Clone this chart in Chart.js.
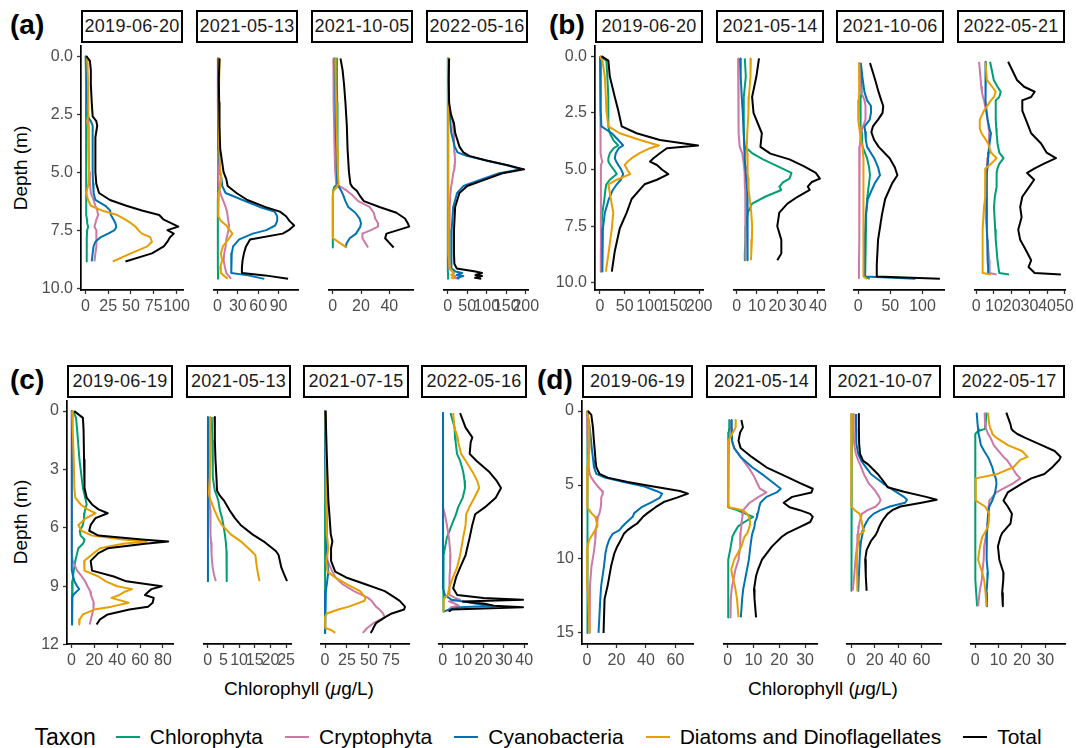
<!DOCTYPE html>
<html>
<head>
<meta charset="utf-8">
<title>Chlorophyll depth profiles</title>
<script src="https://cdn.jsdelivr.net/npm/chart.js@4.4.1/dist/chart.umd.min.js"></script>
<style>
  body { margin: 0; background: #fff; font-family: "Liberation Sans", Arial, sans-serif; }
  #page { position: relative; width: 1076px; height: 748px; overflow: hidden; background: #fff; }
  #page canvas { position: absolute; }
  .strip { position: absolute; box-sizing: border-box; border: 2px solid #000; background: #fff;
           color: #1a1a1a; font-size: 18px; letter-spacing: 0.3px; display: flex; align-items: center;
           justify-content: center; white-space: nowrap; }
  .tag { position: absolute; font-weight: bold; font-size: 28px; line-height: 1; color: #000; }
  .ytitle { position: absolute; width: 200px; height: 22px; line-height: 22px; text-align: center;
            font-size: 19px; transform: rotate(-90deg); white-space: nowrap; }
  .xtitle { position: absolute; font-size: 19px; white-space: nowrap; transform: translateX(-50%); }
  #legend { position: absolute; left: 0; top: 722px; width: 1076px; height: 30px; display: flex;
            align-items: center; justify-content: center; }
  #legend .ttl { font-size: 23px; margin-right: 20px; }
  #legend .sw { display: inline-block; width: 24px; height: 2.5px; margin-right: 10px; }
  #legend .lb { font-size: 21px; margin-right: 22px; }
</style>
</head>
<body>
<div id="page">
  <div class="tag" style="left:10px;top:11px">(a)</div>
  <div class="tag" style="left:549px;top:11px">(b)</div>
  <div class="tag" style="left:10px;top:366px">(c)</div>
  <div class="tag" style="left:537px;top:366px">(d)</div>
  <div class="ytitle" style="left:-79px;top:157px">Depth (m)</div>
  <div class="ytitle" style="left:-79px;top:511px">Depth (m)</div>
  <div class="xtitle" style="left:299px;top:678px">Chlorophyll (<i>μ</i>g/L)</div>
  <div class="xtitle" style="left:823px;top:678px">Chlorophyll (<i>μ</i>g/L)</div>
  <div id="legend"></div>
</div>
<script>
var taxa = ["Chlorophyta", "Cryptophyta", "Cyanobacteria", "Diatoms and Dinoflagellates", "Total"];
var taxonColors = ["#009E73", "#CC79A7", "#0072B2", "#E69F00", "#000000"];

// depth ticks per group
var depthTicksAB = [0, 2.5, 5, 7.5, 10];
var depthLabelsAB = ["0.0", "2.5", "5.0", "7.5", "10.0"];
var depthTicksC = [0, 3, 6, 9, 12];
var depthTicksD = [0, 5, 10, 15];

// ---- (a) ----
var a1Depth = [0, 0.2, 0.6, 1.2, 2.0, 2.6, 2.8, 3.0, 3.5, 4.2, 5.0, 5.5, 5.9, 6.2, 6.45, 6.65, 6.85, 7.05, 7.2, 7.35, 7.5, 7.65, 7.8, 8.0, 8.2, 8.5, 8.85];
var a1Chl = [0.3, 0.5, 0.6, 0.7, 0.8, 0.8, 0.8, 0.8, 0.8, 0.8, 0.8, 0.8, 0.8, 1, 1.2, 1.5, 1.5, 1.8, 2, 3, 2, 1.8, 1.6, 1.5, 1.5, 1.5, 1.5];
var a1Cry = [0.5, 0.5, 0.8, 1, 2, 3, 3.5, 3.5, 3.5, 3.5, 4, 5, 6, 9, 11, 13, 14, 12, 11, 10, 12, 12, 12.5, 12, 12, 11, 10];
var a1Cya = [0.5, 1, 1, 1.5, 2, 2.5, 6, 8, 8, 8, 8, 8.5, 9, 11, 22, 27, 28, 31, 33, 34, 32, 25, 17, 11, 9, 8, 7];
var a1Dia = [1.5, 2, 2.5, 3, 3, 3.5, 2, 3, 3.5, 4, 4, 3.5, 1, 3, 6, 18, 35, 44, 50, 55, 58, 62, 71, 73, 68, 50, 30];
var a1Tot = [1, 5, 6, 6, 7, 8, 12, 13, 11, 11, 11, 12, 15, 27, 45, 62, 81, 86, 94, 102, 90, 97, 93, 90, 86, 73, 44];
var a1Ticks = [0, 25, 50, 75, 100];

var a2Depth = [0.1, 1.0, 2.0, 3.0, 4.0, 5.0, 5.3, 5.6, 5.9, 6.2, 6.5, 6.7, 6.9, 7.1, 7.3, 7.5, 7.65, 7.9, 8.2, 8.5, 8.8, 9.1, 9.35, 9.45, 9.6];
var a2Chl = [0.8, 0.8, 0.8, 0.8, 0.8, 0.9, 1, 1, 1, 0.5, 0.5, 0.5, 0.5, 0.5, 0.5, 0.5, 0.6, 0.6, 0.6, 0.7, 0.7, 0.7, 0.8, 0.8, 0.8];
var a2Cry = [0.5, 0.5, 0.5, 1, 1, 1.5, 2, 2.5, 4, 8, 12, 14, 15, 16, 17, 16, 15, 13, 12, 10, 9, 11, 13, 16, 20];
var a2Cya = [1, 1, 1, 1.5, 2, 4, 6, 7, 12, 37, 62, 84, 88, 88, 85, 72, 52, 32, 23, 21, 20, 20, 21, 45, 69];
var a2Dia = [3, 2.5, 2, 2, 2.5, 4, 6, 4, 2, 1.5, 1, 1, 1.5, 5, 13, 18, 22, 16, 8, 5, 7, 4, 5, 9, 15];
var a2Tot = [3, 2, 2.5, 3, 4, 9, 13, 15, 28, 44, 70, 92, 101, 106, 113, 105, 96, 48, 42, 39, 37, 36, 36, 70, 104];
var a2Ticks = [0, 30, 60, 90];

var a3Depth = [0.1, 0.6, 1.2, 2.0, 3.0, 4.0, 5.0, 5.5, 5.65, 5.8, 6.0, 6.25, 6.5, 6.75, 7.0, 7.2, 7.35, 7.5, 7.65, 7.85, 8.05, 8.25];
var a3Chl = [3, 3, 3, 3.2, 3.3, 3.4, 3.5, 3.5, 1, 0.3, 0.2, 0.1, 0.1, 0.1, 0.1, 0.1, 0.1, 0.1, 0.1, 0.1, 0.1, 0.1];
var a3Cry = [0.5, 0.5, 0.6, 0.8, 1, 1.3, 1.8, 2.5, 6, 10, 14, 18, 26, 29, 30, 32, 32, 27, 21, 21, 23, 25];
var a3Cya = [1.3, 1.5, 1.7, 2, 2.3, 2.6, 3, 3.3, 4.5, 6, 7.5, 9, 11, 16, 19, 20, 19.5, 18, 16.5, 12, 10, 9];
var a3Dia = [1.8, 2, 2.2, 2.5, 2.8, 3.2, 3.6, 4.2, 3, 0.5, 0.2, 0.1, 0.1, 0.1, 0.1, 0.1, 0.1, 0.1, 0.1, 0.3, 5, 10];
var a3Tot = [5.5, 7, 8, 9, 10, 10.5, 11.5, 12.5, 14, 17, 19, 22, 33, 45, 51, 53, 54, 46, 38, 37, 40, 43];
var a3Ticks = [0, 20, 40];

var a4Depth = [0.1, 1.0, 2.0, 2.5, 2.9, 3.3, 3.9, 4.15, 4.3, 4.5, 4.7, 4.88, 5.05, 5.3, 5.6, 5.9, 6.5, 7.5, 8.5, 8.95, 9.15, 9.28, 9.35, 9.43, 9.48, 9.55, 9.6];
var a4Chl = [0.2, 0.2, 0.2, 0.2, 0.2, 0.2, 0.2, 0.2, 0.2, 0.2, 0.2, 0.2, 0.2, 0.2, 0.2, 0.2, 0.2, 0.2, 0.2, 0.3, 0.4, 0.6, 0.8, 0.6, 0.9, 0.7, 1];
var a4Cry = [1, 1, 1.5, 8, 14, 16, 16, 17, 18, 19, 18, 17, 14, 12, 9, 7, 5, 3.5, 3.5, 4, 5, 12, 16, 12, 20, 18, 26];
var a4Cya = [2, 1.5, 2, 5, 7, 9, 18, 25, 48, 99, 152, 188, 132, 88, 40, 24, 14, 10, 9, 9, 10, 20, 37, 23, 40, 25, 30];
var a4Dia = [1, 1, 1, 1, 1.2, 1.3, 1.5, 1.5, 1.5, 1.5, 1.5, 1.5, 1.5, 1.5, 1.5, 2, 2, 2.5, 3, 4, 6, 12, 15, 9, 16, 10, 16];
var a4Tot = [3.5, 2.5, 3.5, 8, 16, 19, 30, 40, 55, 99, 154, 196, 140, 99, 50, 30, 19, 16, 16, 17, 23, 71, 88, 71, 88, 70, 86];
var a4Ticks = [0, 50, 100, 150, 200];

// ---- (b) ----
var b1Depth = [0, 0.2, 0.9, 1.8, 2.4, 3.1, 3.4, 3.7, 3.94, 4.06, 4.28, 4.5, 4.65, 4.8, 5.0, 5.2, 5.45, 5.65, 5.9, 6.3, 6.9, 7.6, 8.6, 9.5];
var b1Chl = [0, 13, 15, 17, 17, 17, 20, 27, 37, 28, 20, 17, 17, 21, 28, 34, 20, 13, 11, 9, 5, 3, 2, 2];
var b1Cry = [0, 0.5, 1, 1, 1, 1, 1, 1.5, 1.5, 2, 2, 3, 5, 2, 2, 2, 2, 2, 2, 2, 2, 2, 2, 2];
var b1Cya = [0, 0.5, 1, 1.5, 2, 3, 24, 37, 47, 38, 32, 30, 33, 37, 43, 47, 42, 34, 26, 18, 10, 6, 5, 5];
var b1Dia = [0, 5, 10, 12, 13, 17, 40, 81, 119, 101, 80, 64, 56, 50, 55, 61, 34, 17, 19, 22, 27, 24, 18, 12];
var b1Tot = [3, 17, 20, 30, 37, 44, 74, 121, 198, 135, 121, 108, 101, 115, 125, 138, 115, 90, 80, 64, 54, 40, 30, 24];
var b1Ticks = [0, 50, 100, 150, 200];

var b2Depth = [0.1, 0.9, 1.8, 2.5, 3.4, 4.0, 4.3, 4.55, 4.85, 5.15, 5.4, 5.55, 5.75, 5.9, 6.2, 6.5, 6.9, 7.5, 8.1, 8.7, 9.0];
var b2Chl = [4, 4.5, 3.5, 3.5, 3.5, 4, 8, 13, 20, 27, 26, 23, 21, 22, 14, 7.6, 5.5, 4.5, 4.3, 4, 4];
var b2Cry = [0.7, 0.8, 0.9, 1, 1.1, 1.5, 2.8, 3.2, 3.6, 3.9, 4, 4, 4.1, 4.2, 4.3, 4.4, 4.4, 4.4, 4.4, 4.4, 4.4];
var b2Cya = [1.7, 2, 2.5, 3, 3.5, 3.7, 4, 4, 4.2, 4.5, 4.7, 5, 5, 5.2, 5.3, 5.5, 5.5, 5.5, 5.4, 5.2, 5.2];
var b2Dia = [7, 6.8, 6, 5.8, 5.2, 5, 5.2, 5.3, 5.4, 5.5, 5.6, 5.7, 5.9, 6, 6.3, 6.7, 7.2, 7.6, 7.5, 7.2, 7];
var b2Tot = [11, 9.7, 7.6, 8.3, 12.4, 11.7, 16.6, 26, 33, 39, 41, 37, 35, 36, 30, 25, 21, 20, 22, 22, 20];
var b2Ticks = [0, 10, 20, 30, 40];

var b3Depth = [0.3, 1.0, 1.6, 1.95, 2.2, 2.5, 2.8, 3.1, 3.35, 3.7, 4.0, 4.5, 4.9, 5.25, 5.6, 6.3, 7.0, 8.1, 9.2, 9.72, 9.82];
var b3Chl = [3.4, 5, 5.5, 3.4, 3.4, 3.6, 4, 4.5, 5, 6, 7, 14, 17, 18.5, 17, 14, 12.5, 12, 11, 11, 18];
var b3Cry = [2, 2.5, 5, 10, 11.5, 12, 11, 7.7, 5, 3.4, 2.5, 2, 2, 2, 2, 1.8, 1.6, 1.5, 1.4, 1.3, 1.5];
var b3Cya = [4.3, 7, 10, 14, 20, 20, 18, 10, 11, 12, 14, 25, 31, 34, 26, 15, 12, 10.5, 10, 10, 89];
var b3Dia = [2, 1.8, 1.5, 1.3, 0, 0, 0.5, 1.5, 2.6, 4, 7, 8.3, 8.6, 8.6, 8.2, 7.7, 7.9, 8.3, 8.5, 8.6, 14];
var b3Tot = [18.5, 26, 32, 36, 39, 38, 31, 23, 20.6, 25, 32, 49, 57, 61, 53, 42, 37, 31, 29, 29, 127];
var b3Ticks = [0, 50, 100];

var b4Depth = [0.25, 1.05, 1.35, 1.57, 1.8, 1.95, 2.4, 2.8, 3.2, 3.4, 3.85, 4.25, 4.5, 4.75, 4.95, 5.15, 5.45, 5.75, 6.2, 6.65, 7.1, 7.65, 8.1, 8.55, 9.0, 9.3, 9.56, 9.63];
var b4Chl = [7.8, 9.9, 12, 13.8, 13, 11, 11, 11, 11.3, 11.5, 12, 13, 15.4, 13, 12, 11.5, 11.5, 11.5, 10.5, 10, 10.3, 10.7, 11, 11.5, 12, 12.5, 13, 18.5];
var b4Cry = [1.6, 2.5, 2.8, 3.2, 3.8, 4.4, 5.5, 6.4, 7, 7.5, 7.2, 7, 6.5, 6.2, 6, 5.8, 5.5, 5.3, 5.2, 5.2, 5.5, 6, 6.3, 6.8, 7.3, 7.5, 7.5, 11.5];
var b4Cya = [5.5, 5.3, 5.2, 5.2, 5.2, 5.2, 5.8, 6.4, 7.5, 8.3, 7.5, 7, 6.7, 6.5, 6.3, 6, 6, 6, 6, 6, 6, 6, 6.2, 6.3, 6.5, 6.7, 6.7, 7.5];
var b4Dia = [5.2, 6, 9, 11, 10, 8.3, 4.4, 2, 2, 3, 6.7, 8.3, 11.5, 8.3, 5.2, 5, 5, 5.2, 5, 4.4, 4, 3.6, 3.6, 3.6, 3.6, 3.6, 3.6, 8.3];
var b4Tot = [18, 23, 27, 33, 31, 26, 26, 28, 30, 31, 36.6, 39.7, 45, 38, 33, 28.7, 32.7, 30, 26, 24.8, 25.6, 23.7, 24.8, 28, 31, 29.5, 33, 47.8];
var b4Ticks = [0, 10, 20, 30, 40, 50];

// ---- (c) ----
var c1Depth = [0, 0.35, 1.0, 2.5, 3.95, 4.45, 4.8, 5.05, 5.25, 5.5, 5.85, 6.15, 6.4, 6.6, 6.7, 6.82, 7.05, 7.3, 7.7, 8.2, 8.5, 8.75, 9.0, 9.15, 9.3, 9.45, 9.6, 9.85, 10.05, 10.2, 10.45, 10.7, 10.97];
var c1Chl = [1.4, 4, 5, 7, 10, 12, 13.3, 12, 11.4, 11, 10, 7.3, 8, 11.4, 11, 10, 6, 5, 3.3, 2, 1.4, 1, 0.8, 0.6, 0.5, 0.5, 0.5, 0.5, 0.5, 0.5, 0.5, 0.5, 0.5];
var c1Cry = [0.3, 0.3, 0.3, 0.3, 0.3, 0.3, 0.3, 0.3, 0.3, 0.3, 0.3, 0.3, 0.3, 0.3, 0.3, 0.3, 0.3, 0.3, 1, 5, 9, 12, 14, 15.5, 16.5, 17, 18, 19.5, 19.5, 19, 18, 17, 16];
var c1Cya = [0.3, 0.3, 0.3, 0.3, 0.3, 0.3, 0.3, 0.3, 0.3, 0.3, 0.3, 0.3, 0.3, 0.3, 0.3, 0.3, 0.3, 0.3, 0.3, 0.3, 1.5, 2.5, 5, 6.8, 4, 1.5, 0.5, 0.5, 0.5, 0.5, 0.5, 0.5, 0.5];
var c1Dia = [0.5, 1, 1.3, 2, 2.5, 3.3, 8, 14, 21, 12.8, 6, 8.7, 18, 45, 65.6, 45, 25, 19.5, 11, 11.4, 23.6, 30, 40, 53, 46, 42, 35, 50, 35, 20, 10, 7.3, 6.8];
var c1Tot = [2.4, 10, 10.6, 11, 11.4, 13.3, 18, 23.6, 31.7, 21, 16.8, 15.5, 23.6, 61.6, 84.6, 64.3, 31.7, 23.6, 16.8, 18, 37, 48, 79, 70, 67, 64.3, 72, 71, 67, 50.7, 31.7, 25, 22];
var c1Ticks = [0, 20, 40, 60, 80];

var c2Depth = [0.3, 1.5, 2.5, 3.4, 4.1, 4.35, 4.6, 5.1, 5.5, 5.85, 6.35, 6.75, 7.2, 7.4, 8.05, 8.4, 8.74];
var c2Chl = [1.3, 1.5, 1.6, 1.7, 2.3, 2.9, 3.4, 3.9, 4.6, 5.0, 5.5, 5.8, 6.0, 6.0, 6.1, 6.1, 6.1];
var c2Cry = [0.4, 0.45, 0.5, 0.55, 0.6, 0.65, 0.7, 0.8, 0.85, 0.9, 1.0, 1.1, 1.2, 1.3, 1.6, 2.0, 2.6];
var c2Cya = [0.1, 0.1, 0.1, 0.1, 0.1, 0.1, 0.1, 0.1, 0.1, 0.1, 0.1, 0.1, 0.1, 0.1, 0.1, 0.1, 0.1];
var c2Dia = [0.9, 0.85, 0.8, 0.7, 0.4, 0.5, 1.0, 2.2, 3.3, 4.5, 7.5, 11, 14, 15.2, 15.7, 16.1, 16.5];
var c2Tot = [2.2, 2.3, 2.5, 2.8, 3, 3.9, 5.2, 7, 8.7, 10.5, 14.4, 18.3, 21.8, 22.6, 23.5, 24.4, 25.3];
var c2Ticks = [0, 5, 10, 15, 20, 25];

var c3Depth = [0, 2.5, 4.6, 5.5, 6.3, 6.7, 7.05, 7.7, 8.25, 8.55, 8.9, 9.25, 9.6, 9.75, 10.05, 10.2, 10.4, 10.6, 10.9, 11.15, 11.25, 11.4];
var c3Chl = [0, 0.2, 0.3, 0.4, 0.5, 0.5, 0.6, 0.3, 0, 0, 0, 0, 0, 0, 0, 0, 0, 0, 0, 0, 0, 0];
var c3Cry = [0.6, 0.8, 1, 1.5, 2, 2.2, 2.2, 2.8, 8.4, 12, 20, 33, 49, 53, 58, 62, 66, 68, 55, 48, 46, 43];
var c3Cya = [0, 0.5, 1.5, 1.6, 1.6, 1.6, 1.6, 2.5, 3.75, 3, 2, 1, 0.3, 0.2, 0.1, 0, 0, 0, 0, 0, 0, 0];
var c3Dia = [0.6, 1.2, 1.6, 2, 2.2, 3.0, 3.75, 1.6, 2.8, 11.6, 25, 40, 46, 45, 27, 15, 2, 0, 0, 0.5, 7, 11.6];
var c3Tot = [0.6, 2.2, 3.8, 5.3, 6.5, 8.4, 6.9, 6.9, 11.6, 24, 46, 68, 80, 85, 91, 90, 76, 68, 58, 55, 54, 52];
var c3Ticks = [0, 25, 50, 75];

var c4Depth = [0.1, 0.85, 1.35, 1.6, 2.2, 2.55, 3.1, 3.6, 3.95, 4.45, 4.95, 5.3, 5.85, 6.5, 7.4, 8.05, 8.55, 9.1, 9.45, 9.6, 9.7, 9.78, 9.9, 10.0, 10.08, 10.2, 10.3];
var c4Chl = [3.8, 5.8, 6, 6.3, 7, 8.5, 10, 10.7, 10.9, 9.8, 7.5, 6.5, 4.4, 2, 0.4, 0.3, 0.3, 0.3, 0.3, 0.3, 0.3, 0.3, 0.3, 0.3, 0.3, 0.3, 0.3];
var c4Cry = [0.1, 0.1, 0.1, 0.1, 0.1, 0.1, 0.1, 0.1, 0.1, 0.1, 0.3, 1, 2, 3, 3.8, 3.6, 3.3, 3.1, 3.5, 6, 8.5, 3, 6, 7.8, 4, 3, 2.5];
var c4Cya = [0.1, 0.1, 0.1, 0.1, 0.1, 0.1, 0.1, 0.1, 0.1, 0.1, 0.1, 0.1, 0.1, 0.1, 0.1, 0.1, 0.1, 0.3, 1, 3, 4.4, 10, 16.5, 24.6, 8.5, 3, 0.5];
var c4Dia = [5.1, 5.7, 7.3, 7.6, 9, 11.2, 14.5, 17, 17.9, 15.5, 13, 11.5, 11.2, 10, 8.5, 7, 5, 3.1, 2.4, 1, 0.4, 0.4, 0.4, 0.4, 0.4, 0.4, 0.4];
var c4Tot = [8.5, 11.2, 14.5, 13.7, 13.2, 16.5, 22.6, 26.6, 28.6, 26, 20.6, 15.9, 14.5, 13.2, 11.2, 8.5, 6.5, 5.1, 7.1, 20, 39.4, 9.8, 20.6, 25, 39.4, 4.4, 3];
var c4Ticks = [0, 10, 20, 30, 40];

// ---- (d) ----
var d1Depth = [0, 0.25, 1.1, 1.8, 2.5, 3.35, 3.8, 4.25, 4.5, 4.8, 5.1, 5.4, 5.58, 5.85, 6.15, 6.5, 6.9, 7.15, 7.6, 7.8, 8.05, 8.3, 8.7, 9.15, 9.6, 10.5, 11.8, 12.7, 15.0];
var d1Chl = [0.3, 0.3, 0.3, 0.3, 0.3, 0.3, 0.3, 0.3, 0.3, 0.3, 0.3, 0.3, 0.3, 0.3, 0.3, 0.3, 0.3, 0.3, 0.3, 0.3, 0.3, 0.3, 0.3, 0.3, 0.3, 0.3, 0.3, 0.3, 0.3];
var d1Cry = [0, 0.1, 0.3, 0.5, 0.7, 1, 1.3, 1.8, 2.9, 5, 7.4, 10.2, 10.7, 9.6, 9.6, 9.3, 8.5, 7.4, 6.8, 6.3, 6, 5.7, 5.5, 5.1, 4.5, 3, 2, 1.8, 1.8];
var d1Cya = [0.2, 0.5, 1.8, 2.5, 3.2, 4.2, 4.7, 6.3, 12, 25, 39, 47, 51, 49.5, 44, 37, 32, 31, 26, 24, 22, 17.4, 15, 13.5, 12.5, 11.5, 9.6, 9, 7.8];
var d1Dia = [0, 0.5, 1.5, 1.8, 1.5, 0.7, 0.5, 0.3, 0.2, 0.1, 0.1, 0.1, 0.1, 0.1, 0.1, 0.1, 2.9, 5.5, 6.8, 7, 5.5, 4, 1.5, 0.3, 0, 0, 0.2, 0.8, 1.8];
var d1Tot = [0.7, 2.9, 4, 4.5, 5.1, 5.8, 6.3, 8.5, 14, 27.5, 45, 63, 68.5, 61, 52, 46.5, 41, 38, 34, 31, 27.5, 25, 23, 20.5, 18.6, 16.3, 14, 11.9, 11.2];
var d1Ticks = [0, 20, 40, 60];

var d2Depth = [0.6, 1.1, 1.45, 2.0, 2.5, 3.1, 3.8, 4.35, 4.9, 5.25, 5.5, 5.8, 6.2, 6.5, 6.7, 6.95, 7.15, 7.5, 7.8, 8.25, 8.5, 9.15, 10.05, 10.7, 11.15, 11.6, 12.05, 12.7, 13.95];
var d2Chl = [0.8, 0.6, 0.4, 0.2, 0.2, 0.2, 0.2, 0.2, 0.2, 0.2, 0.2, 0.2, 0.2, 0.3, 3.6, 7, 9.9, 6.5, 4, 2.5, 1.8, 1.2, 0.2, 0.2, 0.2, 0.2, 0.2, 0.2, 0.2];
var d2Cry = [1.1, 1.3, 1.5, 1.6, 2.5, 5, 8, 10, 11.5, 12.5, 15, 12, 8.5, 7, 6, 5.9, 5.7, 5.4, 5.3, 5, 4.9, 4.8, 4.2, 3, 2.5, 2, 1.5, 1.2, 1.1];
var d2Cya = [1.4, 1.5, 1.6, 1.7, 2.5, 5, 9.5, 14, 18, 20.6, 19, 15, 12.7, 12.2, 12, 11.6, 11.4, 10.6, 10.4, 9.6, 9.3, 8.8, 8.2, 7.5, 7, 6.5, 6, 5.6, 5.1];
var d2Dia = [3.1, 3.1, 2, 0.2, 0.2, 0.2, 0.2, 0.2, 0.2, 0.2, 0.2, 0.2, 0.2, 0.5, 5.9, 7.5, 8.2, 8.7, 8.5, 7.6, 6.5, 5.3, 2.5, 1.4, 1.8, 2.5, 3, 3.6, 4.2];
var d2Tot = [5.3, 5.9, 4.8, 4.2, 5, 9.3, 15, 21.7, 28.5, 33, 32.5, 25, 21.7, 24, 28, 32, 33, 32, 28.5, 23, 21, 17.2, 13.3, 11.8, 11, 10.6, 10.2, 10.4, 11];
var d2Ticks = [0, 10, 20, 30];

var d3Depth = [0.2, 1.2, 2.2, 2.9, 3.35, 3.6, 4.25, 4.9, 5.15, 5.45, 5.8, 6.0, 6.2, 6.45, 6.7, 6.95, 7.25, 7.5, 7.8, 8.1, 8.35, 8.8, 9.4, 10.05, 11.15, 12.15];
var d3Chl = [0.5, 0.3, 0.2, 0.2, 0.2, 0.2, 0.2, 0.2, 0.2, 0.2, 0.2, 0.2, 0.2, 0.2, 0.2, 0.2, 0.2, 0.2, 0.2, 0.2, 0.2, 0.2, 0.2, 0.2, 0.2, 0.2];
var d3Cry = [1.9, 2.1, 2.4, 4, 6, 7.5, 10.7, 15, 17.9, 21, 23.8, 25, 24, 21, 14, 9, 8, 7.1, 6.5, 6, 5.6, 5.2, 4.5, 3.6, 2.5, 1.2];
var d3Cya = [4, 4.1, 4.3, 6, 8.5, 10.7, 16.7, 27.4, 32, 38, 45, 47.6, 46, 33, 25, 19, 15, 13, 11, 10, 9.5, 8.3, 7.6, 7.1, 6.5, 6];
var d3Dia = [0.5, 0.2, 0, 0, 0, 0, 0, 0, 0, 0, 0, 0, 0, 0, 3, 7.1, 8.3, 9, 9.5, 11, 7.1, 6, 5.2, 4.8, 5, 5.2];
var d3Tot = [6.4, 6.5, 6.7, 7.5, 10, 14.3, 22.6, 29, 31, 45, 64, 73, 60, 42, 35, 31, 28, 26, 24, 22.5, 21, 16.7, 13.1, 11.9, 12.4, 13.1];
var d3Ticks = [0, 20, 40, 60];

var d4Depth = [0.1, 0.9, 1.2, 1.35, 1.55, 1.8, 2.3, 2.7, 3.1, 3.3, 3.8, 4.25, 4.55, 4.9, 5.5, 6.05, 6.45, 6.95, 7.6, 7.8, 8.25, 8.5, 9.15, 10.05, 10.95, 11.4, 12.3, 13.2];
var d4Chl = [4.8, 4.4, 4.2, 1.2, 0, 0, 0, 0, 0, 0, 0, 0, 0, 0, 0, 0, 0, 0, 0, 0, 0, 0, 0, 0, 0.2, 0.3, 0.4, 0.8];
var d4Cry = [4, 4.2, 4.5, 5, 5.5, 6.5, 7.9, 10, 12.1, 13.5, 15.7, 17.5, 19.3, 16, 9, 6, 5.8, 5.6, 5.4, 5.2, 4.8, 4.5, 3.8, 3.6, 3.0, 2.8, 1.8, 1.2];
var d4Cya = [0.6, 1, 1.2, 1.3, 1.5, 1.8, 2.4, 3.8, 5.4, 6, 7.3, 8, 8.8, 9.1, 8.5, 7.3, 6, 5.5, 5.2, 5.2, 5, 4.9, 4.8, 4.9, 5.4, 5.2, 4.8, 5];
var d4Dia = [5.4, 6, 6.5, 7, 7.3, 9, 13.9, 20, 22.4, 19.3, 16.3, 9.5, 0.2, 0.2, 0.2, 0.2, 4.2, 6, 5.7, 5.4, 4, 3, 2, 1.2, 3, 3.8, 4.4, 4.8];
var d4Tot = [13.3, 15.1, 15.5, 16.3, 18, 21.2, 28.4, 34, 36.6, 36, 33, 29.6, 24, 20, 13.9, 12.1, 13.9, 15.7, 15.1, 14, 11.5, 10.8, 9.7, 10.3, 12.1, 12, 11.5, 11.8];
var d4Ticks = [0, 10, 20, 30];

var panels = [
  { group: "a", date: "2019-06-20", depth: a1Depth, values: [a1Chl, a1Cry, a1Cya, a1Dia, a1Tot], ticks: a1Ticks },
  { group: "a", date: "2021-05-13", depth: a2Depth, values: [a2Chl, a2Cry, a2Cya, a2Dia, a2Tot], ticks: a2Ticks },
  { group: "a", date: "2021-10-05", depth: a3Depth, values: [a3Chl, a3Cry, a3Cya, a3Dia, a3Tot], ticks: a3Ticks },
  { group: "a", date: "2022-05-16", depth: a4Depth, values: [a4Chl, a4Cry, a4Cya, a4Dia, a4Tot], ticks: a4Ticks },
  { group: "b", date: "2019-06-20", depth: b1Depth, values: [b1Chl, b1Cry, b1Cya, b1Dia, b1Tot], ticks: b1Ticks },
  { group: "b", date: "2021-05-14", depth: b2Depth, values: [b2Chl, b2Cry, b2Cya, b2Dia, b2Tot], ticks: b2Ticks },
  { group: "b", date: "2021-10-06", depth: b3Depth, values: [b3Chl, b3Cry, b3Cya, b3Dia, b3Tot], ticks: b3Ticks },
  { group: "b", date: "2022-05-21", depth: b4Depth, values: [b4Chl, b4Cry, b4Cya, b4Dia, b4Tot], ticks: b4Ticks },
  { group: "c", date: "2019-06-19", depth: c1Depth, values: [c1Chl, c1Cry, c1Cya, c1Dia, c1Tot], ticks: c1Ticks },
  { group: "c", date: "2021-05-13", depth: c2Depth, values: [c2Chl, c2Cry, c2Cya, c2Dia, c2Tot], ticks: c2Ticks },
  { group: "c", date: "2021-07-15", depth: c3Depth, values: [c3Chl, c3Cry, c3Cya, c3Dia, c3Tot], ticks: c3Ticks },
  { group: "c", date: "2022-05-16", depth: c4Depth, values: [c4Chl, c4Cry, c4Cya, c4Dia, c4Tot], ticks: c4Ticks },
  { group: "d", date: "2019-06-19", depth: d1Depth, values: [d1Chl, d1Cry, d1Cya, d1Dia, d1Tot], ticks: d1Ticks },
  { group: "d", date: "2021-05-14", depth: d2Depth, values: [d2Chl, d2Cry, d2Cya, d2Dia, d2Tot], ticks: d2Ticks },
  { group: "d", date: "2021-10-07", depth: d3Depth, values: [d3Chl, d3Cry, d3Cya, d3Dia, d3Tot], ticks: d3Ticks },
  { group: "d", date: "2022-05-17", depth: d4Depth, values: [d4Chl, d4Cry, d4Cya, d4Dia, d4Tot], ticks: d4Ticks },
];

// panel boxes in page pixels
var groupLayout = {
  a: { top: 45, bottom: 290, cols: [[81, 183], [196, 298], [311, 413], [426, 528]], yTicks: depthTicksAB, yLabels: depthLabelsAB },
  b: { top: 45, bottom: 290, cols: [[595, 703], [716, 824], [836, 944], [957, 1065]], yTicks: depthTicksAB, yLabels: depthLabelsAB },
  c: { top: 400, bottom: 644, cols: [[67, 173], [186, 291], [303, 409], [421, 527]], yTicks: depthTicksC },
  d: { top: 400, bottom: 644, cols: [[582, 693], [706, 817], [829, 941], [953, 1065]], yTicks: depthTicksD },
};

var FONT = "'Liberation Sans', Arial, sans-serif";
Chart.defaults.font.family = FONT;
var page = document.getElementById("page");

// ggplot-like 5% expansion
function expand(arr) {
  var lo = Math.min.apply(null, arr), hi = Math.max.apply(null, arr);
  var pad = (hi - lo) * 0.05;
  return [lo - pad, hi + pad];
}

var yLimits = {};
Object.keys(groupLayout).forEach(function (g) {
  var ds = [];
  panels.filter(function (p) { return p.group === g; }).forEach(function (p) { ds = ds.concat(p.depth); });
  yLimits[g] = expand(ds);
});

var colCount = {};
panels.forEach(function (p) {
  var lay = groupLayout[p.group];
  var col = colCount[p.group] || 0;
  colCount[p.group] = col + 1;
  var x0 = lay.cols[col][0], x1 = lay.cols[col][1];
  var first = col === 0;
  var padL = first ? 46 : 18, padR = 24, axisH = 34;
  var w = x1 - x0 + padL + padR, h = lay.bottom - lay.top + axisH;

  var strip = document.createElement("div");
  strip.className = "strip";
  strip.style.left = x0 + "px";
  strip.style.top = (lay.top - 35) + "px";
  strip.style.width = (x1 - x0) + "px";
  strip.style.height = "33px";
  strip.textContent = p.date;
  page.appendChild(strip);

  var cv = document.createElement("canvas");
  cv.width = w;
  cv.height = h;
  cv.style.left = (x0 - padL) + "px";
  cv.style.top = lay.top + "px";
  page.appendChild(cv);

  var allVals = [];
  p.values.forEach(function (v) { allVals = allVals.concat(v); });
  var xl = expand(allVals);
  var yl = yLimits[p.group];

  var datasets = taxa.map(function (t, k) {
    return {
      label: t,
      data: p.depth.map(function (d, j) { return { x: p.values[k][j], y: d }; }),
      borderColor: taxonColors[k],
      borderWidth: 2,
      borderJoinStyle: "round",
      pointRadius: 0,
      showLine: true,
      fill: false,
      order: taxa.length - 1 - k,
    };
  });

  new Chart(cv, {
    type: "scatter",
    data: { datasets: datasets },
    options: {
      responsive: false,
      animation: false,
      events: [],
      layout: { padding: { left: first ? 0 : padL, right: padR, top: 0, bottom: 0 } },
      plugins: { legend: { display: false }, tooltip: { enabled: false } },
      scales: {
        x: {
          type: "linear",
          min: xl[0],
          max: xl[1],
          bounds: "data",
          afterBuildTicks: function (s) {
            s.ticks = p.ticks.filter(function (v) { return v >= s.min && v <= s.max; })
              .map(function (v) { return { value: v }; });
          },
          afterFit: function (s) {
            s.height = axisH;
            s.paddingLeft = 0;
            s.paddingRight = 0;
          },
          grid: { display: true, drawOnChartArea: false, drawTicks: true, tickLength: 4, tickColor: "#333", tickWidth: 1.3 },
          border: { display: true, color: "#000", width: 1.7 },
          ticks: {
            color: "#4d4d4d",
            font: { size: 16 },
            padding: 3,
            maxRotation: 0,
            autoSkip: false,
            callback: function (v) { return String(v); },
          },
        },
        y: {
          type: "linear",
          reverse: true,
          min: yl[0],
          max: yl[1],
          bounds: "data",
          display: first,
          afterBuildTicks: function (s) {
            s.ticks = lay.yTicks.map(function (v) { return { value: v }; });
          },
          afterFit: function (s) {
            s.width = padL;
            s.paddingTop = 0;
            s.paddingBottom = 0;
          },
          grid: { display: true, drawOnChartArea: false, drawTicks: true, tickLength: 4, tickColor: "#333", tickWidth: 1.3 },
          border: { display: true, color: "#000", width: 1.7 },
          ticks: {
            color: "#4d4d4d",
            font: { size: 16 },
            padding: 4,
            autoSkip: false,
            callback: function (v) {
              var i = lay.yTicks.indexOf(v);
              return lay.yLabels && i >= 0 ? lay.yLabels[i] : String(v);
            },
          },
        },
      },
    },
  });
});

// legend
var legend = document.getElementById("legend");
var ttl = document.createElement("span");
ttl.className = "ttl";
ttl.textContent = "Taxon";
legend.appendChild(ttl);
taxa.forEach(function (t, k) {
  var sw = document.createElement("span");
  sw.className = "sw";
  sw.style.background = taxonColors[k];
  legend.appendChild(sw);
  var lb = document.createElement("span");
  lb.className = "lb";
  lb.textContent = t;
  if (k === taxa.length - 1) lb.style.marginRight = "0";
  legend.appendChild(lb);
});
</script>
</body>
</html>
